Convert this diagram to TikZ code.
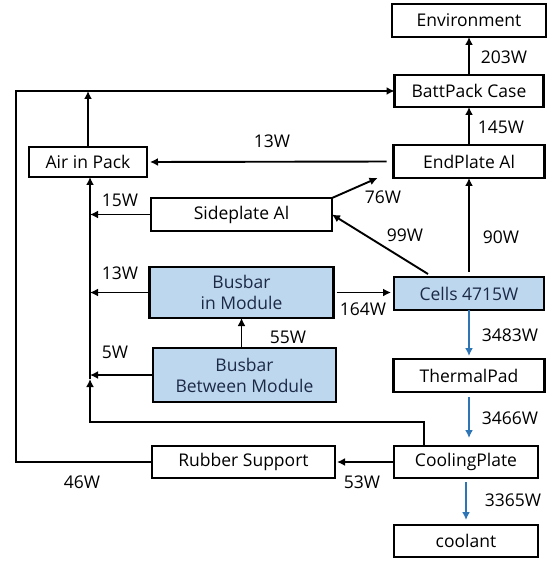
\documentclass[tikz,border=0pt]{standalone}
\usepackage{fontspec}
\setmainfont{Open Sans}
\usepackage{tikz}
\usetikzlibrary{arrows.meta,positioning}
\definecolor{PackBlue}{RGB}{46,117,182}
\definecolor{PackLight}{RGB}{189,215,238}
\definecolor{PackNavy}{RGB}{28,42,72}

\begin{document}
\begin{tikzpicture}[x=1pt, y=-1pt, every node/.style={font=\fontsize{17.5}{21}\selectfont}, blk/.style={draw,line width=2.2pt,outer sep=0pt,minimum height=33pt,inner sep=2pt,align=center}, hot/.style={blk,fill=PackLight,text=PackNavy}, lbl/.style={inner sep=0pt}, arr/.style={-{Latex[length=8pt,width=8pt]},line width=1.9pt}, cool/.style={arr,PackBlue}]
\useasboundingbox (0,0) rectangle (554,561);
\node[blk,minimum width=154pt] (env) at (469,20.5) {Environment};
\node[blk,minimum width=149pt,minimum height=32pt,below=38pt of env] (case) {BattPack Case};
\node[blk,minimum width=151pt,below=38pt of case] (endpl) {EndPlate Al};
\node[hot,minimum width=150pt,below=99pt of endpl] (cells) {Cells 4715W};
\node[blk,minimum width=151pt,below=49pt of cells] (tpad) {ThermalPad};
\node[blk,minimum width=144pt,minimum height=32pt,below=54pt of tpad,xshift=-3pt] (cplate) {CoolingPlate};
\node[blk,minimum width=144pt,minimum height=32pt,below=47pt of cplate] (coolant) {coolant};
\node[blk,minimum width=118pt,minimum height=30pt] (air) at (88,162) {Air in Pack};
\node[blk,minimum width=181pt] (side) at (241.5,214.5) {Sideplate Al};
\node[hot,minimum width=184pt,minimum height=51pt,below=36pt of side] (bim) {Busbar\\in Module};
\node[hot,minimum width=183pt,minimum height=54pt,below=30pt of bim,xshift=3pt] (bbm) {Busbar\\Between Module};
\node[blk,minimum width=183pt,minimum height=32pt] (rub) at (243.5,462) {Rubber Support};
\coordinate (outer) at (16,91); \coordinate (trunk) at (90,422); \coordinate (tjoin) at (90,379);
\node[lbl] (w203) at (504,57) {203W}; \node[lbl] (w145) at (501,127) {145W}; \node[lbl] (w13a) at (272,141) {13W}; \node[lbl] (w76) at (383,197) {76W};
\node[lbl] (w15) at (120,200) {15W}; \node[lbl] (w99) at (405,235) {99W}; \node[lbl] (w90) at (501,237) {90W}; \node[lbl] (w13b) at (120,273) {13W};
\node[lbl] (w164) at (363,309) {164W}; \node[lbl] (w55) at (288,337) {55W}; \node[lbl] (w3483) at (510,335) {3483W}; \node[lbl] (w5) at (115,352) {5W};
\node[lbl] (w3466) at (510,418) {3466W}; \node[lbl] (w53) at (362,482) {53W}; \node[lbl] (w46) at (82,482) {46W}; \node[lbl] (w3365) at (513,500) {3365W};
\draw[arr] (case.north -| env.south) -- (env.south); \draw[arr] (endpl.north) -- (endpl.north |- case.south);
\draw[arr] (rub.west) -| (outer) -- (case.west); \draw[arr] (air.north) -- (air.north |- outer);
\draw[arr,shorten <=7pt,shorten >=3pt] (endpl.west) -- (air.east);
\draw[arr] (side.north east) -- ([xshift=-16pt]endpl.south west); \draw[arr] ([xshift=-41pt,yshift=3pt]cells.north) -- (side.east); \draw[arr] ([yshift=5pt]cells.north) -- (endpl.south);
\draw[arr,shorten <=3pt,shorten >=3pt] (bim.east) -- (bim.east -| cells.west); \draw[arr] (bim.south |- bbm.north) -- (bim.south);
\draw[arr] (side.west) -- (side.west -| tjoin); \draw[arr] (bim.west) -- (bim.west -| tjoin); \draw[arr] (bbm.west) -- (bbm.west -| tjoin);
\draw[arr] ([xshift=-42pt]cplate.north) |- (trunk) -- (tjoin); \draw[arr] (tjoin) -- (tjoin |- air.south);
\draw[arr,shorten >=2pt] (cplate.west) -- (rub.east);
\draw[cool,shorten >=3pt] (cells.south) -- (cells.south |- tpad.north); \draw[cool,shorten <=5pt,shorten >=8pt] (tpad.south) -- (tpad.south |- cplate.north); \draw[cool,shorten <=4pt,shorten >=5pt] (cplate.south) -- (coolant.north);
\end{tikzpicture}
\end{document}
